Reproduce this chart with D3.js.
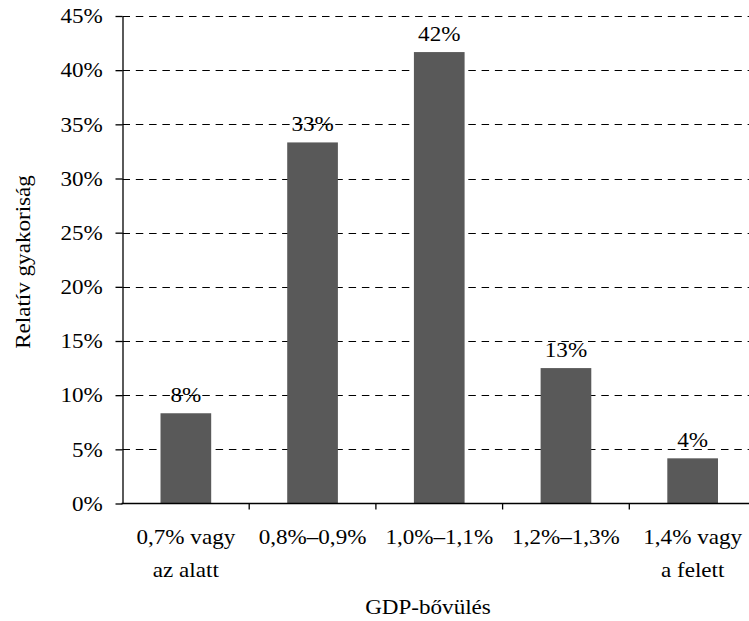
<!DOCTYPE html>
<html>
<head>
<meta charset="utf-8">
<script src="https://cdn.jsdelivr.net/npm/d3@7"></script>
<style>
  html, body { margin: 0; padding: 0; background: #fff; }
  svg text { font-family: "Liberation Serif", "Times New Roman", serif; fill: #000; }
</style>
</head>
<body>
<svg id="chart" width="749" height="621"></svg>
<script>
// GDP growth bands and the share of forecasts falling in each
const categories = ["0,7% vagy az alatt", "0,8%–0,9%", "1,0%–1,1%", "1,2%–1,3%", "1,4% vagy a felett"];
const categoryLines = [["0,7% vagy", "az alatt"], ["0,8%–0,9%"], ["1,0%–1,1%"], ["1,2%–1,3%"], ["1,4% vagy", "a felett"]];
const shares = [0.0833, 0.3333, 0.4167, 0.125, 0.0417];
const yTicks = [0, 0.05, 0.10, 0.15, 0.20, 0.25, 0.30, 0.35, 0.40, 0.45];
const yTitle = "Relatív gyakoriság";
const xTitle = "GDP-bővülés";

const svg = d3.select("#chart");
const plotLeft = 122.5, plotRight = 756, plotTop = 16, plotBottom = 503.5;
const fontSize = 21, stretch = 1.1;

const x = d3.scaleBand().domain(categories).range([plotLeft, plotRight])
  .paddingInner(0.6).paddingOuter(0.3);
const y = d3.scaleLinear().domain([0, 0.45]).range([plotBottom, plotTop]);
const pct = d3.format(".0%");

// dashed gridlines
svg.append("g").selectAll("line")
  .data(yTicks.filter(d => d > 0))
  .join("line")
  .attr("x1", plotLeft).attr("x2", plotRight)
  .attr("y1", d => Math.round(y(d)) + 0.5).attr("y2", d => Math.round(y(d)) + 0.5)
  .attr("stroke", "#000").attr("stroke-width", 1)
  .attr("stroke-dasharray", "7.5,5.8");

// bars
svg.append("g").selectAll("rect")
  .data(shares)
  .join("rect")
  .attr("x", (d, i) => x(categories[i]))
  .attr("y", d => y(d))
  .attr("width", x.bandwidth())
  .attr("height", d => y(0) - y(d))
  .attr("fill", "#595959");

// value labels
svg.append("g").selectAll("text")
  .data(shares)
  .join("text")
  .attr("text-anchor", "middle")
  .attr("font-size", fontSize)
  .attr("transform", (d, i) =>
    `translate(${x(categories[i]) + x.bandwidth() / 2},${y(d) - 11}) scale(${stretch},1)`)
  .text(d => pct(d));

// y axis
const yAxis = svg.append("g")
  .attr("transform", `translate(${plotLeft},0)`)
  .call(d3.axisLeft(y).tickValues(yTicks).tickFormat(pct).tickSize(7).tickPadding(11).tickSizeOuter(0));
yAxis.select(".domain").attr("stroke", "#000").attr("stroke-width", 1.3);
yAxis.selectAll(".tick line").attr("stroke", "#000").attr("stroke-width", 1.3);
yAxis.selectAll(".tick text")
  .attr("font-size", fontSize)
  .attr("font-family", "Liberation Serif")
  .attr("fill", "#000")
  .attr("transform", `scale(${stretch},1)`);

// x axis line with ticks at the band boundaries
const gap = x.step() - x.bandwidth();
const xAxis = svg.append("g");
xAxis.append("line")
  .attr("x1", plotLeft - 1).attr("x2", plotRight)
  .attr("y1", plotBottom).attr("y2", plotBottom)
  .attr("stroke", "#000").attr("stroke-width", 1.3);
xAxis.selectAll("line.bound")
  .data(categories.slice(1))
  .join("line")
  .attr("class", "bound")
  .attr("x1", d => x(d) - gap / 2).attr("x2", d => x(d) - gap / 2)
  .attr("y1", plotBottom).attr("y2", plotBottom + 6)
  .attr("stroke", "#000").attr("stroke-width", 1.3);

// category labels (one or two lines)
const catLabels = xAxis.selectAll("g.cat")
  .data(categories)
  .join("g")
  .attr("class", "cat")
  .attr("transform", d => `translate(${x(d) + x.bandwidth() / 2},${plotBottom + 40}) scale(${stretch},1)`);
catLabels.selectAll("text")
  .data((d, i) => categoryLines[i])
  .join("text")
  .attr("text-anchor", "middle")
  .attr("font-size", fontSize)
  .attr("y", (d, j) => j * 34)
  .text(d => d);

// axis titles
svg.append("text")
  .attr("text-anchor", "middle")
  .attr("font-size", fontSize)
  .attr("transform", `translate(428,614) scale(${stretch},1)`)
  .text(xTitle);

svg.append("text")
  .attr("text-anchor", "middle")
  .attr("font-size", fontSize)
  .attr("transform", `translate(30,262) rotate(-90) scale(${stretch},1)`)
  .text(yTitle);
</script>
</body>
</html>
